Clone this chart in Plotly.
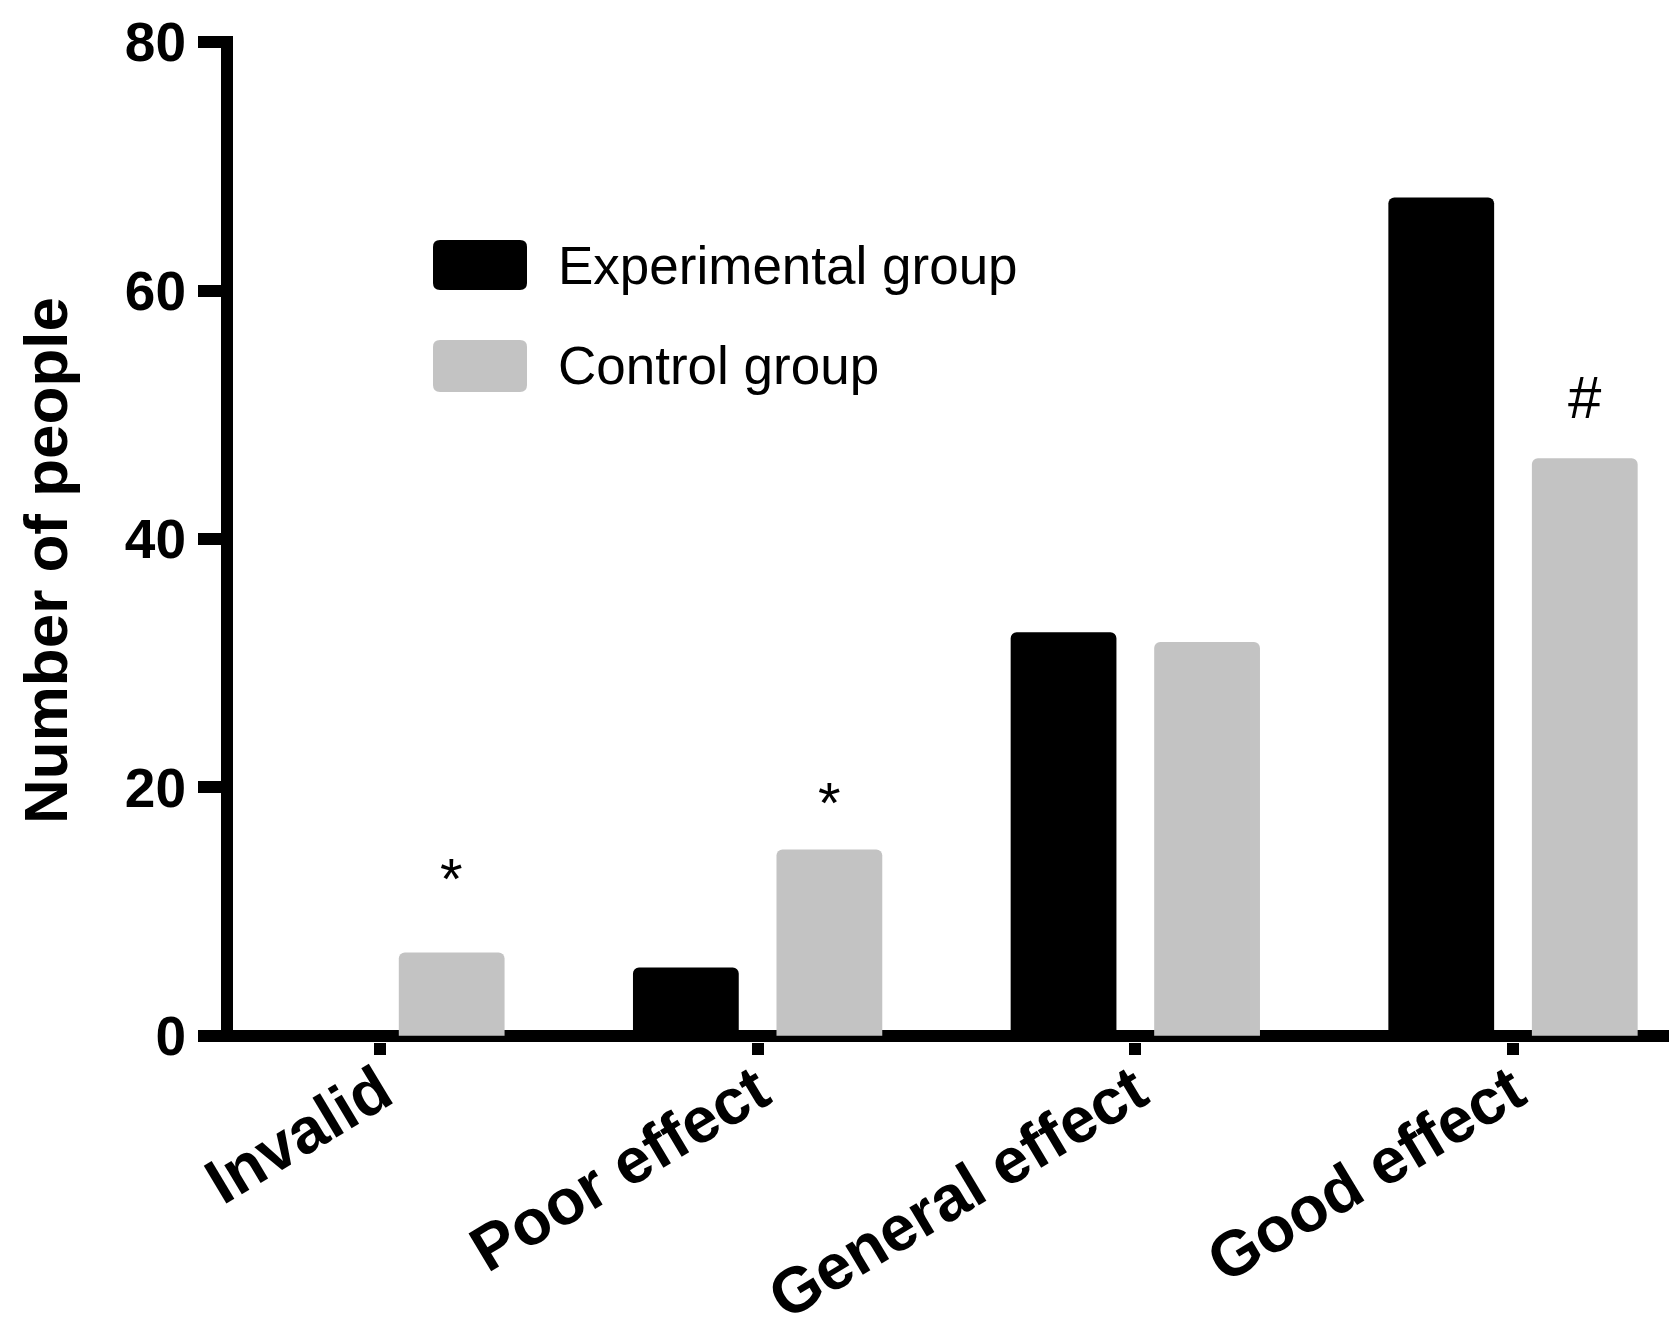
import plotly.graph_objects as go

# dados
categorias = ['Invalid', 'Poor effect', 'General effect', 'Good effect']
grupos = ['Experimental group', 'Control group']
experimental = [0, 5.5, 32.5, 67.5]
controle = [6.7, 15, 31.7, 46.5]
marcas = ['*', '*', '', '#']
ticks_y = [0, 20, 40, 60, 80]
titulo_y = 'Number of people'

cores = ['#000000', '#c3c3c3']
fonte = 'Liberation Sans, Arial, sans-serif'

# a pagina html tem margem de 8px no body
OFF = 8
W, H = 1677 - OFF, 1336 - OFF
ml, mr, mt, mb = 233 - OFF, 8, 36 - OFF, 294
pw, ph = W - ml - mr, H - mt - mb


def px2paper(x, y):
    # pixel da tela -> coordenada paper
    x, y = x - OFF, y - OFF
    return (x - ml) / pw, (H - mb - y) / ph


def caixa(x0, y0, x1, y1, r=7):
    # retangulo com cantos arredondados
    a, b = px2paper(x0, y0)
    c, d = px2paper(x1, y1)
    rx, ry = r / pw, r / ph
    return (f'M{a+rx},{b} L{c-rx},{b} Q{c},{b} {c},{b-ry} L{c},{d+ry} Q{c},{d} {c-rx},{d} '
            f'L{a+rx},{d} Q{a},{d} {a},{d+ry} L{a},{b-ry} Q{a},{b} {a+rx},{b} Z')


fig = go.Figure()

fig.add_trace(go.Bar(x=categorias, y=experimental, name=grupos[0],
                     marker=dict(color=cores[0], line=dict(width=0), cornerradius=6)))
fig.add_trace(go.Bar(x=categorias, y=controle, name=grupos[1],
                     marker=dict(color=cores[1], line=dict(width=0), cornerradius=6)))

# asteriscos / cerquilha acima das barras do controle
desloc = [6.0, 3.8, 0, 4.9]
passo = pw / 3.802
for i, m in enumerate(marcas):
    if not m:
        continue
    fig.add_annotation(x=categorias[i], y=controle[i] + desloc[i], text=m, showarrow=False,
                       xshift=0.19 * passo, yanchor='middle',
                       font=dict(family=fonte, size=58 if m == '*' else 60, color='black'))

# legenda desenhada a mao
leg_y = [(240, 290), (340, 392)]
for i, g in enumerate(grupos):
    fig.add_shape(type='path', xref='paper', yref='paper',
                  path=caixa(433, leg_y[i][0], 527, leg_y[i][1]),
                  fillcolor=cores[i], line=dict(width=0))
    lx, ly = px2paper(556, (leg_y[i][0] + leg_y[i][1]) / 2)
    fig.add_annotation(x=lx, y=ly, xref='paper', yref='paper', text=g, showarrow=False,
                       xanchor='left', yanchor='middle',
                       font=dict(family=fonte, size=53, color='black'))

# titulo do eixo y como anotacao
tx, ty = px2paper(45, 561)
fig.add_annotation(x=tx, y=ty, xref='paper', yref='paper', text=titulo_y, showarrow=False,
                   textangle=-90, xanchor='center', yanchor='middle', borderpad=0,
                   font=dict(family=fonte, size=62, color='black', weight='bold'))

fig.update_layout(
    width=W, height=H,
    margin=dict(l=ml, r=mr, t=mt, b=mb, autoexpand=False),
    paper_bgcolor='white', plot_bgcolor='white',
    showlegend=False,
    barmode='group', bargap=0.24, bargroupgap=0.263,
    font=dict(family=fonte, color='black'),
    xaxis=dict(range=[-0.389, 3.413], showline=False, showgrid=False, zeroline=False,
               automargin=False, ticklabeloverflow='allow',
               ticks='outside', ticklen=12, tickwidth=12, tickcolor='black',
               ticklabelstandoff=-26,
               tickangle=-31, tickfont=dict(size=64, family=fonte, color='black', weight='bold')),
    yaxis=dict(range=[-0.5, 80.5], tickvals=ticks_y, showgrid=False, automargin=False,
               ticklabeloverflow='allow',
               showline=True, linewidth=12, linecolor='black',
               zeroline=True, zerolinewidth=12, zerolinecolor='black',
               ticks='outside', ticklen=23, tickwidth=12, tickcolor='black',
               ticklabelstandoff=1,
               tickfont=dict(size=55, family=fonte, color='black', weight='bold')),
)

fig.write_html('out.html')
